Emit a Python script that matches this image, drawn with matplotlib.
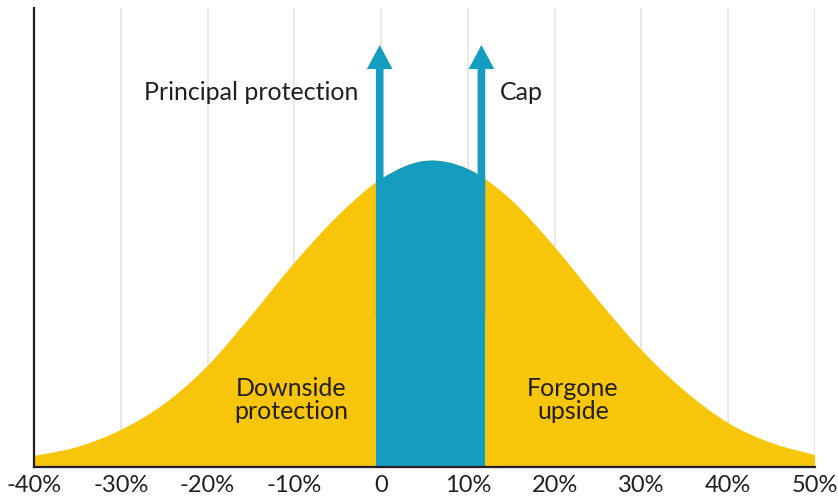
import matplotlib
matplotlib.use("Agg")
import matplotlib.pyplot as plt
from matplotlib.path import Path
from matplotlib.patches import PathPatch, Rectangle, FancyArrow

# Return outcomes (%) and the relative likelihood of each outcome
returns = [-40, -35, -30, -25, -20, -15, -10, -5, 0, 5, 10, 15, 20, 25, 30, 35, 40, 45, 50]
likelihood = [11, 20, 37, 63, 101, 151, 204, 251, 288, 306, 298, 267, 220, 167, 117, 76, 44, 24, 12]

# Protected band: floor and cap of the note (%)
floor_return = -0.6
cap_return = 12.0

tick_values = [-40, -30, -20, -10, 0, 10, 20, 30, 40, 50]
tick_labels = ["-40%", "-30%", "-20%", "-10%", "0", "10%", "20%", "30%", "40%", "50%"]

YELLOW = "#F7C60B"
BLUE = "#159DC1"
INK = "#231F20"
GRID = "#E9E5E3"
FONT = "Lato"

fig = plt.figure(figsize=(8.38, 4.99), dpi=100)
ax = fig.add_axes([34 / 838, 32 / 499, 781 / 838, 459 / 499])
ax.set_xlim(-40, 50)
ax.set_ylim(0, 459)


def smooth_area(xs, ys):
    """Closed area under a Catmull-Rom curve through (xs, ys), as Bezier segments."""
    n = len(xs)
    pts = list(zip(xs, ys))
    verts = [(xs[0], 0), pts[0]]
    codes = [Path.MOVETO, Path.LINETO]
    for i in range(n - 1):
        p0 = pts[max(i - 1, 0)]
        p1 = pts[i]
        p2 = pts[i + 1]
        p3 = pts[min(i + 2, n - 1)]
        c1 = (p1[0] + (p2[0] - p0[0]) / 6, p1[1] + (p2[1] - p0[1]) / 6)
        c2 = (p2[0] - (p3[0] - p1[0]) / 6, p2[1] - (p3[1] - p1[1]) / 6)
        verts += [c1, c2, p2]
        codes += [Path.CURVE4] * 3
    verts += [(xs[-1], 0), (xs[0], 0)]
    codes += [Path.LINETO, Path.CLOSEPOLY]
    return Path(verts, codes)


# Vertical gridlines
for t in tick_values[1:]:
    ax.axvline(t, color=GRID, lw=1.3, zorder=0)

area = PathPatch(smooth_area(returns, likelihood), facecolor=YELLOW, edgecolor="none", zorder=2)
ax.add_patch(area)

band = Rectangle((floor_return, 0), cap_return - floor_return, 459,
                 facecolor=BLUE, edgecolor="none", zorder=3)
ax.add_patch(band)
band.set_clip_path(area)

# Arrows for the floor and the cap
shaft_w = 0.88
head_w = 2.95
head_len = 24
tip_y = 422
for x in (floor_return + shaft_w / 2, cap_return - shaft_w / 2):
    arr = FancyArrow(x, 150, 0, tip_y - 150, width=shaft_w, head_width=head_w,
                     head_length=head_len, length_includes_head=True,
                     facecolor=BLUE, edgecolor="none", zorder=4)
    ax.add_patch(arr)

ax.text(-2.6, 375, "Principal protection", ha="right", va="center",
        fontsize=18, color=INK, family=FONT)
ax.text(13.7, 375, "Cap", ha="left", va="center",
        fontsize=18, color=INK, family=FONT)
ax.text(-10.4, 67, "Downside\nprotection", ha="center", va="center",
        fontsize=18, color=INK, family=FONT, linespacing=1.05)
ax.text(22.1, 67, "Forgone\nupside", ha="center", va="center",
        fontsize=18, color=INK, family=FONT, linespacing=1.05)

ax.set_xticks(tick_values)
ax.set_xticklabels(tick_labels, fontsize=17, color=INK, family=FONT)
ax.tick_params(axis="x", length=0, pad=6)
ax.set_yticks([])

for side in ("top", "right"):
    ax.spines[side].set_visible(False)
for side in ("left", "bottom"):
    ax.spines[side].set_color(INK)
    ax.spines[side].set_linewidth(1.6)
    ax.spines[side].set_zorder(5)

fig.savefig("out.png", dpi=100)
